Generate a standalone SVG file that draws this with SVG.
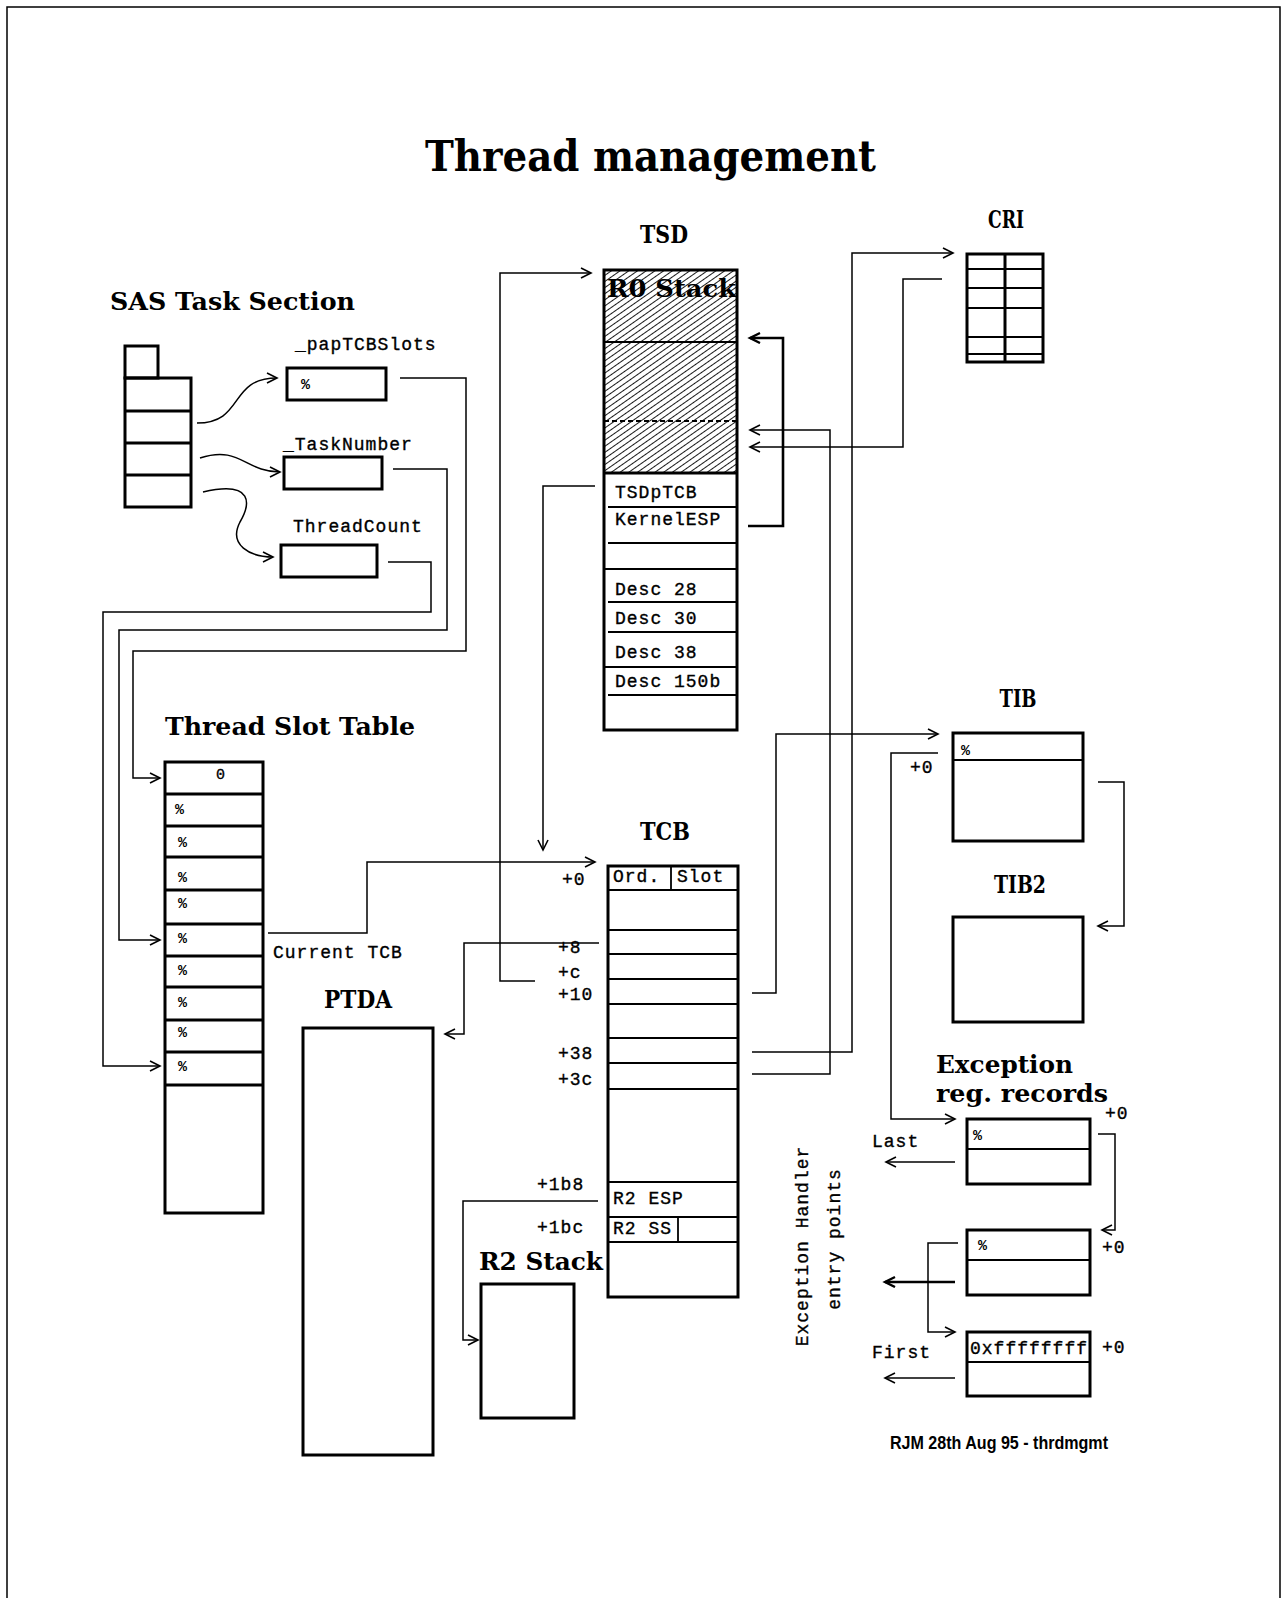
<svg xmlns="http://www.w3.org/2000/svg" width="1283" height="1598" viewBox="0 0 1283 1598">
<style>
.box{fill:none;stroke:#000;stroke-width:3}
.row{fill:none;stroke:#000;stroke-width:1.8}
.conn{fill:none;stroke:#000;stroke-width:1.5}
.thick{fill:none;stroke:#000;stroke-width:2.6}
.ttl{font-family:"DejaVu Serif","Liberation Serif",serif;font-weight:bold;font-size:25px;fill:#000}
.mono{font-family:"Liberation Mono","DejaVu Sans Mono",monospace;font-size:18px;letter-spacing:1px;fill:#000;stroke:#000;stroke-width:0.35}
.pct{font-family:"Liberation Mono","DejaVu Sans Mono",monospace;font-size:15px;font-weight:bold;fill:#000}
</style>
<defs>
<marker id="arr" markerUnits="userSpaceOnUse" markerWidth="14" markerHeight="14" refX="11" refY="6" orient="auto">
<path d="M1,1 L11,6 L1,11" fill="none" stroke="#000" stroke-width="1.6"/>
</marker>
<marker id="arrT" markerUnits="userSpaceOnUse" markerWidth="14" markerHeight="14" refX="11" refY="6" orient="auto">
<path d="M1,1 L11,6 L1,11" fill="none" stroke="#000" stroke-width="2.4"/>
</marker>
<pattern id="hatch" width="5" height="5" patternUnits="userSpaceOnUse" patternTransform="rotate(-35)">
<line x1="0" y1="2.5" x2="5" y2="2.5" stroke="#000" stroke-width="0.9"/>
</pattern>
</defs>
<rect x="0" y="0" width="1283" height="1598" fill="#fff"/>
<path d="M7,1598 V7 H1280 V1598" fill="none" stroke="#000" stroke-width="1.5"/>

<g id="title">
<text x="425" y="171" class="ttl" style="font-size:42px" textLength="451" lengthAdjust="spacingAndGlyphs">Thread management</text>
</g>

<g id="sas-task-section">
<text x="110" y="310" class="ttl" style="font-size:24px" textLength="245" lengthAdjust="spacingAndGlyphs">SAS Task Section</text>
<rect x="125" y="346" width="33" height="32" class="box"/>
<rect x="125" y="378" width="66" height="129" class="box"/>
<line x1="125" y1="411" x2="191" y2="411" class="box"/>
<line x1="125" y1="443" x2="191" y2="443" class="box"/>
<line x1="125" y1="475" x2="191" y2="475" class="box"/>
</g>

<g id="papTCBSlots">
<text x="295" y="350" class="mono">_papTCBSlots</text>
<rect x="287" y="368" width="99" height="32" class="box"/>
<text x="301" y="389" class="pct">%</text>
</g>
<g id="TaskNumber">
<text x="283" y="450" class="mono">_TaskNumber</text>
<rect x="284" y="457" width="98" height="32" class="box"/>
</g>
<g id="ThreadCount">
<text x="293" y="532" class="mono">ThreadCount</text>
<rect x="281" y="545" width="96" height="32" class="box"/>
</g>

<g id="tsd">
<text x="664" y="243" class="ttl" text-anchor="middle" textLength="48" lengthAdjust="spacingAndGlyphs">TSD</text>
<rect x="604" y="270" width="133" height="203" fill="url(#hatch)"/>
<text x="607" y="297" class="ttl" style="font-size:25px" textLength="129" lengthAdjust="spacingAndGlyphs">R0 Stack</text>
<rect x="604" y="270" width="133" height="460" class="box"/>
<line x1="604" y1="342" x2="737" y2="342" class="row"/>
<line x1="604" y1="421" x2="737" y2="421" class="row" stroke-dasharray="5,3"/>
<line x1="604" y1="473" x2="737" y2="473" class="box"/>
<line x1="608" y1="507" x2="737" y2="507" class="row"/>
<line x1="608" y1="543" x2="737" y2="543" class="row"/>
<line x1="604" y1="569" x2="737" y2="569" class="row"/>
<line x1="608" y1="602" x2="737" y2="602" class="row"/>
<line x1="608" y1="632" x2="737" y2="632" class="row"/>
<line x1="604" y1="667" x2="737" y2="667" class="row"/>
<line x1="608" y1="695" x2="737" y2="695" class="row"/>
<text x="615" y="498" class="mono">TSDpTCB</text>
<text x="615" y="525" class="mono">KernelESP</text>
<text x="615" y="595" class="mono">Desc 28</text>
<text x="615" y="624" class="mono">Desc 30</text>
<text x="615" y="658" class="mono">Desc 38</text>
<text x="615" y="687" class="mono">Desc 150b</text>
</g>

<g id="cri">
<text x="1006" y="228" class="ttl" text-anchor="middle" textLength="36" lengthAdjust="spacingAndGlyphs">CRI</text>
<rect x="967" y="254" width="76" height="108" class="box"/>
<line x1="1005" y1="254" x2="1005" y2="362" class="box"/>
<line x1="967" y1="269" x2="1043" y2="269" class="row"/>
<line x1="967" y1="288" x2="1043" y2="288" class="row"/>
<line x1="967" y1="308" x2="1043" y2="308" class="row"/>
<line x1="967" y1="337" x2="1043" y2="337" class="row"/>
<line x1="967" y1="354" x2="1043" y2="354" class="row"/>
</g>

<g id="thread-slot-table">
<text x="165" y="735" class="ttl" style="font-size:24px" textLength="250" lengthAdjust="spacingAndGlyphs">Thread Slot Table</text>
<rect x="165" y="762" width="98" height="451" class="box"/>
<line x1="165" y1="794" x2="263" y2="794" class="box"/>
<line x1="165" y1="826" x2="263" y2="826" class="box"/>
<line x1="165" y1="857" x2="263" y2="857" class="box"/>
<line x1="165" y1="890" x2="263" y2="890" class="box"/>
<line x1="165" y1="924" x2="263" y2="924" class="box"/>
<line x1="165" y1="956" x2="263" y2="956" class="box"/>
<line x1="165" y1="987" x2="263" y2="987" class="box"/>
<line x1="165" y1="1020" x2="263" y2="1020" class="box"/>
<line x1="165" y1="1052" x2="263" y2="1052" class="box"/>
<line x1="165" y1="1085" x2="263" y2="1085" class="box"/>
<text x="216" y="779" class="mono" style="font-size:15px">0</text>
<text x="175" y="814" class="pct">%</text>
<text x="178" y="847" class="pct">%</text>
<text x="178" y="882" class="pct">%</text>
<text x="178" y="908" class="pct">%</text>
<text x="178" y="943" class="pct">%</text>
<text x="178" y="975" class="pct">%</text>
<text x="178" y="1007" class="pct">%</text>
<text x="178" y="1037" class="pct">%</text>
<text x="178" y="1071" class="pct">%</text>
<text x="273" y="958" class="mono">Current TCB</text>
</g>

<g id="ptda">
<text x="358" y="1008" class="ttl" text-anchor="middle" textLength="68" lengthAdjust="spacingAndGlyphs">PTDA</text>
<rect x="303" y="1028" width="130" height="427" class="box"/>
</g>

<g id="tcb">
<text x="665" y="840" class="ttl" text-anchor="middle" textLength="50" lengthAdjust="spacingAndGlyphs">TCB</text>
<rect x="608" y="866" width="130" height="431" class="box"/>
<line x1="608" y1="890" x2="738" y2="890" class="row"/>
<line x1="671" y1="866" x2="671" y2="890" class="row"/>
<line x1="608" y1="930" x2="738" y2="930" class="row"/>
<line x1="608" y1="954" x2="738" y2="954" class="row"/>
<line x1="608" y1="979" x2="738" y2="979" class="row"/>
<line x1="608" y1="1004" x2="738" y2="1004" class="row"/>
<line x1="608" y1="1038" x2="738" y2="1038" class="row"/>
<line x1="608" y1="1063" x2="738" y2="1063" class="row"/>
<line x1="608" y1="1089" x2="738" y2="1089" class="row"/>
<line x1="608" y1="1182" x2="738" y2="1182" class="row"/>
<line x1="608" y1="1217" x2="738" y2="1217" class="row"/>
<line x1="608" y1="1242" x2="738" y2="1242" class="row"/>
<line x1="678" y1="1217" x2="678" y2="1242" class="row"/>
<text x="613" y="882" class="mono">Ord.</text>
<text x="677" y="882" class="mono">Slot</text>
<text x="613" y="1204" class="mono">R2 ESP</text>
<text x="613" y="1234" class="mono">R2 SS</text>
<text x="562" y="885" class="mono">+0</text>
<text x="558" y="953" class="mono">+8</text>
<text x="558" y="978" class="mono">+c</text>
<text x="558" y="1000" class="mono">+10</text>
<text x="558" y="1059" class="mono">+38</text>
<text x="558" y="1085" class="mono">+3c</text>
<text x="537" y="1190" class="mono">+1b8</text>
<text x="537" y="1233" class="mono">+1bc</text>
</g>

<g id="r2stack">
<text x="479" y="1270" class="ttl" textLength="124" lengthAdjust="spacingAndGlyphs">R2 Stack</text>
<rect x="481" y="1284" width="93" height="134" class="box"/>
</g>

<g id="tib">
<text x="1018" y="707" class="ttl" text-anchor="middle" textLength="37" lengthAdjust="spacingAndGlyphs">TIB</text>
<rect x="953" y="733" width="130" height="108" class="box"/>
<line x1="953" y1="760" x2="1083" y2="760" class="row"/>
<text x="961" y="755" class="pct">%</text>
<text x="910" y="773" class="mono">+0</text>
</g>

<g id="tib2">
<text x="1020" y="893" class="ttl" text-anchor="middle" textLength="52" lengthAdjust="spacingAndGlyphs">TIB2</text>
<rect x="953" y="917" width="130" height="105" class="box"/>
</g>

<g id="exception-records">
<text x="936" y="1073" class="ttl" textLength="137" lengthAdjust="spacingAndGlyphs">Exception</text>
<text x="936" y="1102" class="ttl" textLength="172" lengthAdjust="spacingAndGlyphs">reg. records</text>
<rect x="967" y="1119" width="123" height="65" class="box"/>
<line x1="967" y1="1149" x2="1090" y2="1149" class="row"/>
<text x="973" y="1140" class="pct">%</text>
<text x="1105" y="1119" class="mono">+0</text>
<rect x="967" y="1230" width="123" height="65" class="box"/>
<line x1="967" y1="1260" x2="1090" y2="1260" class="row"/>
<text x="978" y="1250" class="pct">%</text>
<text x="1102" y="1253" class="mono">+0</text>
<rect x="967" y="1332" width="123" height="64" class="box"/>
<line x1="967" y1="1362" x2="1090" y2="1362" class="row"/>
<text x="970" y="1354" class="mono" textLength="118" lengthAdjust="spacingAndGlyphs">0xffffffff</text>
<text x="1102" y="1353" class="mono">+0</text>
<text x="872" y="1147" class="mono">Last</text>
<text x="872" y="1358" class="mono">First</text>
</g>

<g id="exception-handler-label">
<text transform="translate(808,1246) rotate(-90)" class="mono" text-anchor="middle">Exception Handler</text>
<text transform="translate(840,1239) rotate(-90)" class="mono" text-anchor="middle">entry points</text>
</g>

<g id="footer">
<text x="890" y="1449" style="font-family:'Liberation Sans',Arial,sans-serif;font-size:18px;font-weight:bold" textLength="218" lengthAdjust="spacingAndGlyphs">RJM 28th Aug 95 - thrdmgmt</text>
</g>

<g id="connectors">
<path d="M197,423 C245,423 228,378 277,378" class="conn" marker-end="url(#arr)"/>
<path d="M200,458 C240,445 245,472 280,472" class="conn" marker-end="url(#arr)"/>
<path d="M203,492 C255,480 250,505 240,522 C228,545 250,557 273,557" class="conn" marker-end="url(#arr)"/>
<path d="M400,378 H466 V651 H133 V778 H160" class="conn" marker-end="url(#arr)"/>
<path d="M393,469 H447 V630 H119 V940 H160" class="conn" marker-end="url(#arr)"/>
<path d="M388,562 H431 V612 H103 V1066 H160" class="conn" marker-end="url(#arr)"/>
<path d="M268,933 H367 V862 H595" class="conn" marker-end="url(#arr)"/>
<path d="M599,943 H464 V1034 H445" class="conn" marker-end="url(#arr)"/>
<path d="M535,981 H500 V273 H591" class="conn" marker-end="url(#arr)"/>
<path d="M595,486 H543 V850" class="conn" marker-end="url(#arr)"/>
<path d="M748,526 H783 V338 H750" class="thick" marker-end="url(#arrT)"/>
<path d="M752,1074 H830 V430 H750" class="conn" marker-end="url(#arr)"/>
<path d="M942,279 H903 V447 H750" class="conn" marker-end="url(#arr)"/>
<path d="M752,1052 H852 V253 H953" class="conn" marker-end="url(#arr)"/>
<path d="M752,993 H776 V734 H938" class="conn" marker-end="url(#arr)"/>
<path d="M938,753 H891 V1119 H955" class="conn" marker-end="url(#arr)"/>
<path d="M1098,782 H1124 V926 H1098" class="conn" marker-end="url(#arr)"/>
<path d="M598,1201 H463 V1340 H478" class="conn" marker-end="url(#arr)"/>
<path d="M1098,1134 H1115 V1230 H1102" class="conn" marker-end="url(#arr)"/>
<path d="M958,1243 H928 V1332 H955" class="conn" marker-end="url(#arr)"/>
<path d="M955,1162 H886" class="conn" marker-end="url(#arr)"/>
<path d="M955,1282 H885" class="thick" marker-end="url(#arrT)"/>
<path d="M955,1378 H885" class="conn" marker-end="url(#arr)"/>
</g>
</svg>
